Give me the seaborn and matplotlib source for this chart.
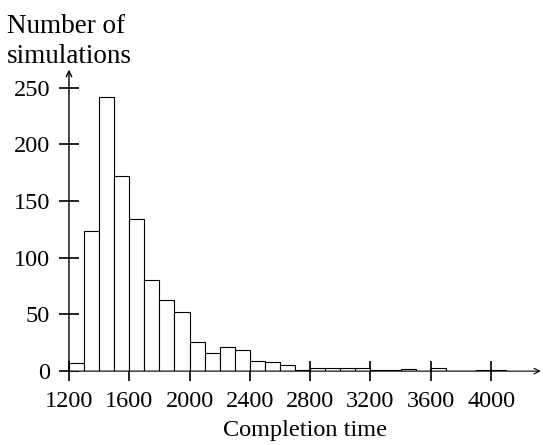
import matplotlib
matplotlib.use("Agg")
import matplotlib.pyplot as plt
import seaborn as sns
import numpy as np

# histogram of completion times, bins of width 100 starting at 1200
bin_starts = list(range(1200, 4100, 100))
counts = [7, 124, 242, 172, 134, 80, 63, 52, 26, 16, 21, 19, 9, 8, 5, 1,
          3, 3, 3, 3, 1, 1, 2, 0, 3, 0, 0, 1, 1]
bin_edges = bin_starts + [bin_starts[-1] + 100]
x_ticks = [1200, 1600, 2000, 2400, 2800, 3200, 3600, 4000]
y_ticks = [0, 50, 100, 150, 200, 250]

sns.set_style("white")
plt.rcParams["font.family"] = "serif"
plt.rcParams["font.serif"] = ["Liberation Serif", "DejaVu Serif"]
plt.rcParams["font.size"] = 17.5
plt.rcParams["text.color"] = "black"
plt.rcParams["axes.labelcolor"] = "black"

fig = plt.figure(figsize=(5.43, 4.45), dpi=100)
ax = fig.add_axes([0.127, 0.166, 0.869, 0.675])

sns.histplot(x=bin_starts, weights=counts, bins=bin_edges, ax=ax,
             color="white", edgecolor="black", linewidth=0.8, alpha=1)

ax.set_xlim(1200, 4330)
ax.set_ylim(0, 265)
for s in ax.spines.values():
    s.set_visible(False)

# axis lines with open arrow heads
ax.annotate("", xy=(4330, 0), xytext=(1200, 0),
            arrowprops=dict(arrowstyle="->", lw=0.8, color="black",
                            mutation_scale=10, shrinkA=0, shrinkB=0),
            annotation_clip=False)
ax.annotate("", xy=(1200, 266), xytext=(1200, 0),
            arrowprops=dict(arrowstyle="->", lw=1.0, color="black",
                            mutation_scale=10, shrinkA=0, shrinkB=0),
            annotation_clip=False)

ax.set_xticks(x_ticks)
ax.set_yticks(y_ticks)
ax.tick_params(bottom=True, left=True, direction="inout", length=14,
               width=1.2, colors="black", labelsize=17.5)
ax.tick_params(axis="x", pad=7)
ax.tick_params(axis="y", pad=6.5)
ax.set_ylabel("")
ax.set_xlabel("Completion time", fontsize=17.5, labelpad=6, color="black")
fig.text(0.012, 0.968, "Number of\nsimulations", ha="left", va="top",
         fontsize=19.5, linespacing=1.25, color="black")

fig.savefig("out.png", dpi=100)
